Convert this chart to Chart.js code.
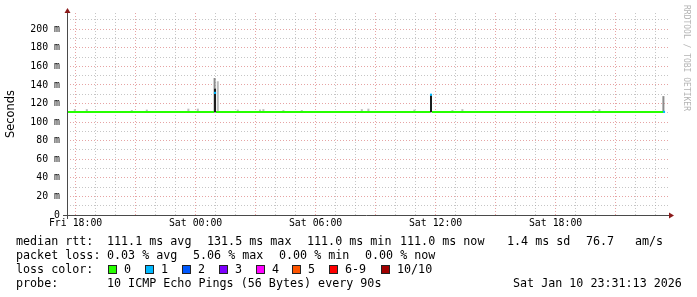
<!DOCTYPE html>
<html>
<head>
<meta charset="utf-8">
<script src="https://cdn.jsdelivr.net/npm/chart.js@4"></script>
<style>
  html, body { margin: 0; padding: 0; background: #fff; }
  #wrap { position: relative; width: 697px; height: 297px; }
  .t { position: absolute; font: 11.7px/14px "DejaVu Sans Mono", monospace; color: #000; white-space: pre; }
  .sw { position: absolute; width: 7px; height: 7px; border: 1px solid #222; }
  #mark { position: absolute; left: 682px; top: 5px; font: 8px/9px "DejaVu Sans Mono", monospace; color: #b4b4b4; writing-mode: vertical-rl; }
</style>
</head>
<body>
<div id="wrap">
  <canvas id="chart" width="697" height="297"></canvas>
  <div id="mark">RRDTOOL / TOBI OETIKER</div>
</div>
<script>
// x values are hours since Fri 00:00
const xTickHours = [18, 24, 30, 36, 42];
const xTickLabels = ['Fri 18:00', 'Sat 00:00', 'Sat 06:00', 'Sat 12:00', 'Sat 18:00'];
const yTickValues = [0, 20, 40, 60, 80, 100, 120, 140, 160, 180, 200];
const yTickLabels = ['0', '20 m', '40 m', '60 m', '80 m', '100 m', '120 m', '140 m', '160 m', '180 m', '200 m'];

// median rtt (ms), green = no loss, gaps where loss colour takes over
const medianHours = [17.52, 24.92, 24.97, 25.02, 35.72, 35.77, 35.82, 47.40];
const medianMs    = [111.0, 111.0, null, 111.0, 111.0, null, 111.0, 111.0];
// median points with 1/10 loss
const lossHours = [24.97, 35.77, 47.42];
const lossMs    = [131.5, 129.5, 111.0];

// smoke (ping spread), three shades
const smokeLightHours = [17.96, 18.56, 20.81, 21.56, 23.64, 24.11, 25.11, 26.11, 27.22, 27.39, 28.39, 29.31, 32.31, 32.64, 34.94, 36.84, 37.34, 43.89, 44.19];
const smokeLightLow   = [111.5, 111.5, 111.5, 111.5, 111.5, 111.5, 111.0, 111.5, 111.5, 111.5, 111.5, 111.5, 111.5, 111.5, 111.5, 111.5, 111.5, 111.5, 111.5];
const smokeLightHigh  = [114.0, 114.0, 113.0, 113.5, 114.5, 114.5, 144.0, 113.5, 113.5, 114.0, 113.0, 113.0, 114.0, 114.5, 113.5, 113.0, 114.0, 113.0, 114.0];
const smokeMidHours = [24.95, 47.39];
const smokeMidLow   = [111.0, 111.0];
const smokeMidHigh  = [147.5, 128.0];
const smokeDarkHours = [24.97, 35.77];
const smokeDarkLow   = [110.5, 110.5];
const smokeDarkHigh  = [136.0, 129.0];

const lossLabels = ['0', '1', '2', '3', '4', '5', '6-9', '10/10'];
const lossColors = ['#26ff00', '#00b8ff', '#0059ff', '#7e00ff', '#ff00ff', '#ff5500', '#ff0000', '#a10000'];

const statRows = [
  [16, 0, 'median rtt:'], [107, 0, '111.1 ms avg'], [207, 0, '131.5 ms max'], [307, 0, '111.0 ms min'],
  [400, 0, '111.0 ms now'], [507, 0, '1.4 ms sd'], [586, 0, '76.7'], [635, 0, 'am/s'],
  [16, 1, 'packet loss:'], [107, 1, '0.03 % avg'], [193, 1, '5.06 % max'], [279, 1, '0.00 % min'], [365, 1, '0.00 % now'],
  [16, 2, 'loss color:'],
  [16, 3, 'probe:'], [107, 3, '10 ICMP Echo Pings (56 Bytes) every 90s'], [513, 3, 'Sat Jan 10 23:31:13 2026']
];
const rowTop = [234, 248, 262, 276];
const swatchX = [108, 145, 182, 219, 256, 292, 329, 381];

const wrap = document.getElementById('wrap');
statRows.forEach(([x, r, s]) => {
  const d = document.createElement('div');
  d.className = 't';
  d.style.left = x + 'px';
  d.style.top = rowTop[r] + 'px';
  d.textContent = s;
  wrap.appendChild(d);
});
lossLabels.forEach((lab, i) => {
  const sw = document.createElement('div');
  sw.className = 'sw';
  sw.style.left = swatchX[i] + 'px';
  sw.style.top = '265px';
  sw.style.background = lossColors[i];
  wrap.appendChild(sw);
  const d = document.createElement('div');
  d.className = 't';
  d.style.left = (swatchX[i] + 16) + 'px';
  d.style.top = rowTop[2] + 'px';
  d.textContent = lab;
  wrap.appendChild(d);
});

const pts = (xs, ys) => xs.map((x, i) => ({ x: x, y: ys[i] }));
const bars = (xs, lo, hi) => xs.map((x, i) => ({ x: x, y: [lo[i], hi[i]] }));

const majorGrid = 'rgba(210, 90, 90, 0.55)';
const minorGrid = 'rgba(160, 160, 160, 0.6)';
const tickFont = { family: 'DejaVu Sans Mono', size: 9.85 };

const gridHours = [];
for (let h = 18; h <= 47; h++) gridHours.push(h);
const gridValues = [];
for (let v = 0; v <= 210; v += 10) gridValues.push(v);

const axesPlugin = {
  id: 'rrdAxes',
  afterDraw(chart) {
    const { ctx, chartArea: a } = chart;
    const x0 = a.left + 0.5, y0 = a.bottom + 0.5;
    ctx.save();
    ctx.strokeStyle = '#4a4a4a';
    ctx.lineWidth = 1;
    ctx.beginPath();
    ctx.moveTo(x0, a.bottom + 4); ctx.lineTo(x0, a.top - 3);
    ctx.moveTo(a.left - 4, y0); ctx.lineTo(a.right + 2, y0);
    ctx.stroke();
    ctx.fillStyle = '#8b1a1a';
    ctx.beginPath();
    ctx.moveTo(x0 - 3, a.top); ctx.lineTo(x0 + 3, a.top); ctx.lineTo(x0, a.top - 5);
    ctx.fill();
    ctx.beginPath();
    ctx.moveTo(a.right + 1, y0 - 3); ctx.lineTo(a.right + 1, y0 + 3); ctx.lineTo(a.right + 6, y0);
    ctx.fill();
    ctx.restore();
  }
};

new Chart(document.getElementById('chart'), {
  type: 'bar',
  data: {
    datasets: [
      { type: 'bar', data: bars(smokeLightHours, smokeLightLow, smokeLightHigh), backgroundColor: '#bdbdbd', barThickness: 2, order: 4 },
      { type: 'bar', data: bars(smokeMidHours, smokeMidLow, smokeMidHigh), backgroundColor: '#8c8c8c', barThickness: 2, order: 3 },
      { type: 'bar', data: bars(smokeDarkHours, smokeDarkLow, smokeDarkHigh), backgroundColor: '#1c1c1c', barThickness: 2, order: 2 },
      { type: 'line', data: pts(medianHours, medianMs), borderColor: '#26ff00', borderWidth: 2, pointRadius: 0, spanGaps: false, order: 1 },
      { type: 'line', data: pts(lossHours, lossMs), showLine: false, pointStyle: 'rect', pointRadius: 1.5, backgroundColor: '#00b8ff', borderWidth: 0, order: 0 }
    ]
  },
  options: {
    responsive: false,
    animation: false,
    layout: { padding: { top: 13, right: 29, left: 0, bottom: 0 } },
    datasets: { bar: { inflateAmount: 0, borderWidth: 0 } },
    plugins: { legend: { display: false }, tooltip: { enabled: false } },
    scales: {
      x: {
        type: 'linear', min: 17.57, max: 47.62, offset: false, stacked: true,
        afterBuildTicks: s => { s.ticks = gridHours.map(v => ({ value: v })); },
        afterFit: s => { s.height = 82; },
        grid: { color: c => (c.tick && c.tick.value % 3 === 0) ? majorGrid : minorGrid, drawTicks: false, offset: false },
        border: { display: false, dash: [1, 2] },
        ticks: {
          autoSkip: false, maxRotation: 0, padding: 3, font: tickFont, color: '#000',
          callback: v => { const i = xTickHours.indexOf(v); return i >= 0 ? xTickLabels[i] : ''; }
        }
      },
      y: {
        min: 0, max: 217.5, stacked: false,
        afterBuildTicks: s => { s.ticks = gridValues.map(v => ({ value: v })); },
        afterFit: s => { s.width = 67; },
        grid: { color: c => (c.tick && c.tick.value % 20 === 0) ? majorGrid : minorGrid, drawTicks: false },
        border: { display: false, dash: [1, 2] },
        ticks: {
          autoSkip: false, padding: 7, font: tickFont, color: '#000',
          callback: v => { const i = yTickValues.indexOf(v); return i >= 0 ? yTickLabels[i] : ''; }
        },
        title: { display: true, text: 'Seconds', color: '#000', font: { family: 'DejaVu Sans', size: 11.4 }, padding: { top: 4, bottom: 4 } }
      }
    }
  },
  plugins: [axesPlugin]
});
</script>
</body>
</html>
